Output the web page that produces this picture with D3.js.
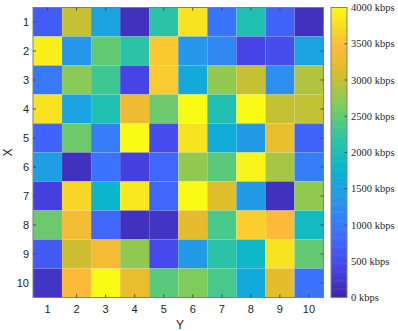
<!DOCTYPE html>
<html>
<head>
<meta charset="utf-8">
<script src="https://cdn.jsdelivr.net/npm/d3@7"></script>
<style>
html,body{margin:0;padding:0;background:#fff;}
svg{display:block;}
</style>
</head>
<body>
<div id="chart"></div>
<script>
// ---- data ----
const rowLabels = [1,2,3,4,5,6,7,8,9,10];   // X (rows)
const colLabels = [1,2,3,4,5,6,7,8,9,10];   // Y (columns)
const row1  = [680, 3000, 1500, 150, 2150, 3800, 950, 2050, 750, 150];
const row2  = [3900, 1350, 2500, 2150, 3580, 1350, 1150, 400, 500, 1500];
const row3  = [1000, 2700, 2300, 400, 3600, 1600, 2750, 3000, 1250, 2900];
const row4  = [3800, 1500, 2050, 3300, 2550, 4000, 2050, 4000, 3000, 3000];
const row5  = [750, 2550, 1050, 4000, 500, 3800, 1650, 1400, 3250, 750];
const row6  = [1450, 150, 950, 350, 800, 2750, 2450, 3950, 2850, 1050];
const row7  = [350, 3700, 1800, 3850, 800, 4000, 3150, 1400, 150, 2750];
const row8  = [2550, 3350, 800, 150, 200, 3200, 2350, 3620, 3450, 1900];
const row9  = [650, 3050, 3350, 2750, 450, 1400, 2150, 1850, 3800, 2500];
const row10 = [200, 3420, 4000, 3250, 2450, 2650, 2350, 1600, 3200, 950];
const values = [row1,row2,row3,row4,row5,row6,row7,row8,row9,row10];
const cbTicks = [0,500,1000,1500,2000,2500,3000,3500,4000];
const cbUnit = " kbps";
const xAxisLabel = "Y";
const yAxisLabel = "X";

// parula approximation
const parulaStops = [
  [0.000, [62,38,168]],
  [0.111, [71,71,235]],
  [0.222, [62,111,255]],
  [0.333, [39,150,235]],
  [0.444, [8,181,208]],
  [0.556, [49,198,159]],
  [0.667, [129,204,89]],
  [0.778, [220,189,41]],
  [0.860, [253,186,58]],
  [0.920, [247,212,40]],
  [1.000, [249,251,21]]
];
const colorScale = d3.scaleLinear()
  .domain(parulaStops.map(d => d[0]*4000))
  .range(parulaStops.map(d => d3.rgb(...d[1]).toString()))
  .interpolate(d3.interpolateRgb)
  .clamp(true);

const W = 398, H = 331;
const plot = {x0: 33, x1: 323.5, y0: 7.5, y1: 297.5};
const svg = d3.select("#chart").append("svg").attr("width", W).attr("height", H);

const xs = d3.scaleBand().domain(colLabels).range([plot.x0, plot.x1]).padding(0);
const ys = d3.scaleBand().domain(rowLabels).range([plot.y0, plot.y1]).padding(0);

// cells
const cells = [];
values.forEach((r, i) => r.forEach((v, j) => cells.push({r: rowLabels[i], c: colLabels[j], v})));
svg.append("g").selectAll("rect").data(cells).join("rect")
  .attr("x", d => xs(d.c)).attr("y", d => ys(d.r))
  .attr("width", xs.bandwidth()).attr("height", ys.bandwidth())
  .attr("fill", d => colorScale(d.v))
  .attr("stroke", "rgba(255,255,255,0.1)").attr("stroke-width", 0.5);

// box
svg.append("rect").attr("x", plot.x0).attr("y", plot.y0)
  .attr("width", plot.x1-plot.x0).attr("height", plot.y1-plot.y0)
  .attr("fill","none").attr("stroke","#808080").attr("stroke-width",1);

const tickCol = "#4a4a4a", tl = 3;
const tg = svg.append("g").attr("stroke", tickCol).attr("stroke-width", 1);
colLabels.forEach(c => {
  const x = xs(c) + xs.bandwidth()/2;
  tg.append("line").attr("x1",x).attr("x2",x).attr("y1",plot.y1).attr("y2",plot.y1-tl);
  tg.append("line").attr("x1",x).attr("x2",x).attr("y1",plot.y0).attr("y2",plot.y0+tl);
});
rowLabels.forEach(r => {
  const y = ys(r) + ys.bandwidth()/2;
  tg.append("line").attr("x1",plot.x0).attr("x2",plot.x0+tl).attr("y1",y).attr("y2",y);
  tg.append("line").attr("x1",plot.x1).attr("x2",plot.x1-tl).attr("y1",y).attr("y2",y);
});

const font = "'Liberation Sans', Arial, sans-serif";
// x tick labels
svg.append("g").selectAll("text").data(colLabels).join("text")
  .attr("x", d => xs(d)+xs.bandwidth()/2).attr("y", 309)
  .attr("text-anchor","middle").attr("dominant-baseline","central")
  .attr("font-family",font).attr("font-size",11).attr("fill","#262626")
  .text(d => d);
// y tick labels
svg.append("g").selectAll("text").data(rowLabels).join("text")
  .attr("x", 29).attr("y", d => ys(d)+ys.bandwidth()/2)
  .attr("text-anchor","end").attr("dominant-baseline","central")
  .attr("font-family",font).attr("font-size",11).attr("fill","#262626")
  .text(d => d);
// axis labels
svg.append("text").attr("x",180).attr("y",325)
  .attr("text-anchor","middle").attr("dominant-baseline","central")
  .attr("font-family",font).attr("font-size",12).attr("fill","#262626")
  .text(xAxisLabel);
svg.append("text").attr("transform","translate(8,152.5) rotate(-90)")
  .attr("text-anchor","middle").attr("dominant-baseline","central")
  .attr("font-family",font).attr("font-size",12).attr("fill","#262626")
  .text(yAxisLabel);

// colorbar
const cb = {x: 331, w: 16, y0: 7.5, y1: 297.5};
const cs = d3.scaleLinear().domain([0,4000]).range([cb.y1, cb.y0]);
const nSteps = 256;
const steps = d3.range(nSteps).map(i => (i+0.5)*4000/nSteps);
svg.append("g").selectAll("rect").data(steps).join("rect")
  .attr("x", cb.x).attr("width", cb.w)
  .attr("y", d => cs(d + 2000/nSteps) - 0.3)
  .attr("height", (cb.y1-cb.y0)/nSteps + 0.6)
  .attr("fill", d => colorScale(d));
svg.append("rect").attr("x",cb.x).attr("y",cb.y0).attr("width",cb.w).attr("height",cb.y1-cb.y0)
  .attr("fill","none").attr("stroke","#808080").attr("stroke-width",1);
const cg = svg.append("g");
cbTicks.forEach(t => {
  const y = cs(t);
  if (t > 0 && t < 4000)
    cg.append("line").attr("x1",cb.x+cb.w).attr("x2",cb.x+cb.w-2.5).attr("y1",y).attr("y2",y)
      .attr("stroke",tickCol).attr("stroke-width",1);
  cg.append("text").attr("x", 351).attr("y", y)
    .attr("dominant-baseline","central")
    .attr("font-family","'Liberation Serif','Times New Roman',serif").attr("font-size",10.5)
    .attr("fill","#262626").text(t + cbUnit);
});
</script>
</body>
</html>
